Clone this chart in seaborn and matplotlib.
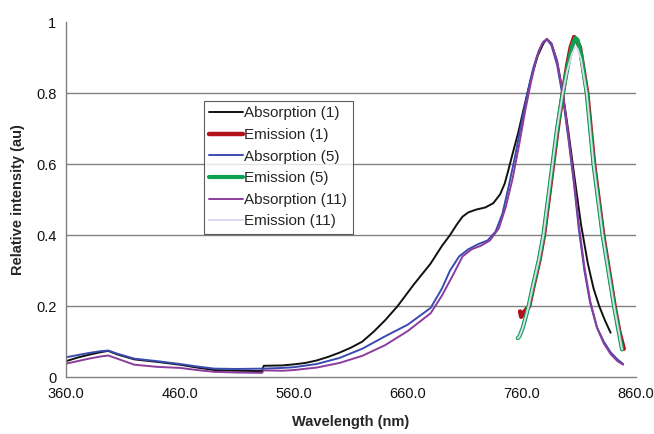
import matplotlib
matplotlib.use("Agg")
import matplotlib.pyplot as plt
import seaborn as sns
import pandas as pd

# ---- data ----
abs1_wl = [360, 370, 380, 390, 397, 405, 420, 440, 460, 475, 490, 510, 532, 533.5, 550, 560, 570, 580, 590, 600, 610, 620, 630,
           640, 651, 665, 680, 690, 697, 703, 708, 713, 720, 728, 735, 741, 745, 748, 752, 757, 762, 768, 774, 779, 782,
           786, 791, 796, 801, 806, 812, 818, 823, 828, 833, 838]
abs1_val = [0.045, 0.055, 0.063, 0.070, 0.074, 0.064, 0.050, 0.043, 0.035, 0.027, 0.020, 0.018, 0.017, 0.032, 0.033, 0.036, 0.040, 0.047, 0.057, 0.069, 0.083, 0.100, 0.128,
            0.160, 0.200, 0.260, 0.320, 0.370, 0.400, 0.430, 0.452, 0.464, 0.472, 0.478, 0.490, 0.515, 0.545, 0.580, 0.630, 0.690, 0.760, 0.840, 0.905, 0.940, 0.952,
            0.940, 0.890, 0.800, 0.690, 0.570, 0.430, 0.320, 0.250, 0.200, 0.160, 0.125]

abs5_wl = [360, 370, 380, 390, 397, 405, 420, 440, 460, 475, 490, 510, 533, 550, 560, 580, 600, 620, 640, 660,
           680, 690, 697, 705, 713, 722, 730, 737, 743, 748, 754, 760, 765, 770, 775, 779, 782,
           786, 791, 796, 801, 806, 810, 815, 820, 826, 832, 838, 844, 849]
abs5_val = [0.056, 0.062, 0.068, 0.073, 0.075, 0.066, 0.052, 0.045, 0.037, 0.030, 0.024, 0.023, 0.024, 0.026, 0.028, 0.037, 0.054, 0.080, 0.115, 0.148,
            0.195, 0.250, 0.300, 0.340, 0.360, 0.375, 0.385, 0.410, 0.460, 0.530, 0.620, 0.720, 0.800, 0.870, 0.920, 0.945, 0.952,
            0.935, 0.880, 0.790, 0.670, 0.540, 0.420, 0.300, 0.210, 0.140, 0.100, 0.070, 0.050, 0.037]

abs11_wl = [360, 370, 380, 390, 397, 405, 420, 440, 460, 475, 490, 510, 532, 533.5, 550, 560, 580, 600, 620, 640, 660,
            680, 690, 700, 708, 716, 724, 732, 740, 746, 752, 758, 763, 768, 773, 778, 782,
            786, 791, 796, 801, 806, 810, 815, 820, 826, 832, 838, 844, 849]
abs11_val = [0.038, 0.045, 0.052, 0.058, 0.061, 0.052, 0.035, 0.029, 0.026, 0.020, 0.015, 0.013, 0.012, 0.019, 0.018, 0.020, 0.027, 0.040, 0.060, 0.090, 0.130,
             0.180, 0.230, 0.290, 0.340, 0.360, 0.370, 0.385, 0.420, 0.480, 0.560, 0.660, 0.750, 0.830, 0.900, 0.940, 0.952,
             0.940, 0.890, 0.800, 0.680, 0.550, 0.430, 0.310, 0.215, 0.140, 0.095, 0.065, 0.045, 0.035]

em1_wl = [758.5, 759.5, 761, 766.5, 770.5, 775.5, 779.5, 783.5, 787.5, 791.5, 796, 800, 803, 806, 808.5, 811,
          814, 817.5, 820.5, 823.5, 827.5, 831.5, 836.5, 841.5, 845.5, 849.5]
em1_val = [0.185, 0.170, 0.180, 0.200, 0.260, 0.330, 0.400, 0.500, 0.600, 0.700, 0.800, 0.880, 0.930, 0.958, 0.945, 0.930,
           0.870, 0.800, 0.700, 0.600, 0.500, 0.400, 0.300, 0.200, 0.130, 0.080]

em5_wl = [756.5, 758, 761, 766, 770, 775, 779, 783, 787, 791, 796, 800, 804, 807, 809, 812,
          817, 820, 823, 827, 831, 836, 841, 845, 848]
em5_val = [0.110, 0.115, 0.140, 0.200, 0.260, 0.330, 0.400, 0.500, 0.600, 0.700, 0.800, 0.870, 0.930, 0.955, 0.950, 0.910,
           0.800, 0.700, 0.600, 0.500, 0.400, 0.300, 0.200, 0.130, 0.078]

em11_wl = [756.5, 758, 761, 766, 770, 775, 779, 783, 787, 791, 796, 800, 804, 807, 809, 812,
           817, 820, 823, 827, 831, 836, 841, 845, 848]
em11_val = [0.110, 0.115, 0.140, 0.200, 0.260, 0.330, 0.400, 0.500, 0.600, 0.700, 0.800, 0.865, 0.910, 0.930, 0.925, 0.895,
            0.800, 0.700, 0.600, 0.500, 0.400, 0.300, 0.200, 0.130, 0.078]

x_ticks = [360, 460, 560, 660, 760, 860]
x_tick_labels = ["360.0", "460.0", "560.0", "660.0", "760.0", "860.0"]
y_ticks = [0, 0.2, 0.4, 0.6, 0.8, 1.0]
y_tick_labels = ["0", "0.2", "0.4", "0.6", "0.8", "1"]

series = [
    ("Absorption (1)", abs1_wl, abs1_val, "#111111", 1.4),
    ("Emission (1)", em1_wl, em1_val, "#B3121C", 3.2),
    ("Absorption (5)", abs5_wl, abs5_val, "#3A4BB0", 1.4),
    ("Emission (5)", em5_wl, em5_val, "#0CA050", 3.0),
    ("Absorption (11)", abs11_wl, abs11_val, "#8C3C9C", 1.4),
    ("Emission (11)", em11_wl, em11_val, "#D9D9F0", 1.4),
]

sns.set_style("white")
plt.rcParams["font.family"] = ["Liberation Sans", "DejaVu Sans"]

fig = plt.figure(figsize=(6.54, 4.34), dpi=100)
ax = fig.add_axes([0.101, 0.131, 0.871, 0.818])

for name, wl, val, col, lw in series:
    df = pd.DataFrame({"wl": wl, "val": val})
    sns.lineplot(data=df, x="wl", y="val", ax=ax, color=col, linewidth=lw,
                 label=name, sort=False, estimator=None,
                 solid_capstyle="round", solid_joinstyle="round")

ax.set_xlim(360, 860)
ax.set_ylim(0, 1)
ax.set_xticks(x_ticks)
ax.set_xticklabels(x_tick_labels)
ax.set_yticks(y_ticks)
ax.set_yticklabels(y_tick_labels)
ax.tick_params(axis="both", direction="out", length=4, width=1, color="#808080",
               labelsize=10.5, labelcolor="#111111", pad=3)
ax.yaxis.grid(True, color="#808080", linewidth=1)
ax.xaxis.grid(False)
ygl = ax.get_ygridlines()
ygl[-1].set_visible(False)
ygl[0].set_visible(False)
for s in ["top", "right"]:
    ax.spines[s].set_visible(False)
for s in ["left", "bottom"]:
    ax.spines[s].set_color("#808080")
    ax.spines[s].set_linewidth(1)

ax.set_xlabel("Wavelength (nm)", fontsize=10.5, fontweight="bold", labelpad=10)
ax.set_ylabel("Relative intensity (au)", fontsize=10.5, fontweight="bold", labelpad=8)

leg = ax.legend(loc="upper left", bbox_to_anchor=(0.242, 0.778), frameon=True,
                fancybox=False, edgecolor="#333333", fontsize=11,
                handlelength=2.2, handletextpad=0.1, borderpad=0.35,
                labelspacing=0.5, borderaxespad=0)
leg.get_frame().set_linewidth(0.8)

fig.savefig("out.png", dpi=100)
